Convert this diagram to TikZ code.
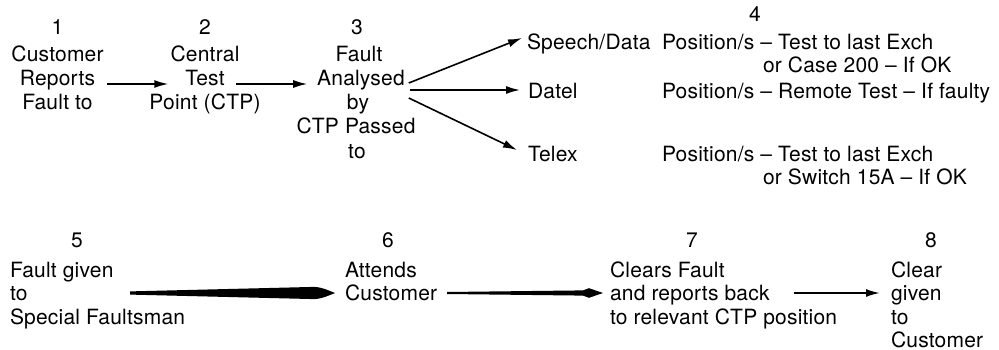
\documentclass[tikz,border=0pt]{standalone}
\usepackage{fontspec}
\setmainfont{TeX Gyre Heros}[LetterSpace=1]
\usetikzlibrary{arrows.meta,calc}
\begin{document}
\begin{tikzpicture}[x=1pt,y=-1pt,
  txt/.style={inner sep=0pt, outer sep=0pt, font=\fontsize{21}{24}\selectfont},
  ctr/.style={txt, anchor=base},
  lft/.style={txt, anchor=base west},
  arr/.style={line width=1.6pt, -{Latex[length=14pt,width=8pt]}},
  taper/.style={fill=black, draw=none}]
\useasboundingbox (0,0) rectangle (999,350);

% ---- step 1
\node[ctr] (n1)  at (57.5,35)  {1};
\node[ctr] (n1a) at (57.5,62)  {Customer};
\node[ctr] (n1b) at (57.5,86)  {Reports};
\node[ctr] (n1c) at (57.5,110) {Fault to};
% ---- step 2
\node[ctr] (n2)  at (205,35)  {2};
\node[ctr] (n2a) at (205,62)  {Central};
\node[ctr] (n2b) at (205,86)  {Test};
\node[ctr] (n2c) at (205,110) {Point (CTP)};
% ---- step 3
\node[ctr] (n3)  at (357,35)  {3};
\node[ctr] (n3a) at (359,62)  {Fault};
\node[ctr] (n3b) at (361,86)  {Analysed};
\node[ctr] (n3c) at (358,110) {by};
\node[ctr] (n3d) at (356,134) {CTP Passed};
\node[ctr] (n3e) at (357,159) {to};
% ---- step 4
\node[ctr] (n4) at (755,22) {4};
\node[lft] (sp)  at (527,50)  {Speech/Data};
\node[lft] (sp1) at (662,50)  {Position/s -- Test to last Exch};
\node[lft] (sp2) at (763,73)  {or Case 200 -- If OK};
\node[lft] (da)  at (528,99)  {Datel};
\node[lft] (da1) at (662,99)  {Position/s -- Remote Test -- If faulty};
\node[lft] (tx)  at (528,162) {Telex};
\node[lft] (tx1) at (662,162) {Position/s -- Test to last Exch};
\node[lft] (tx2) at (763,185) {or Switch 15A -- If OK};
% ---- step 5
\node[ctr] (n5)  at (77,247)  {5};
\node[lft] (n5a) at (10,277)  {Fault given};
\node[lft] (n5b) at (10,300)  {to};
\node[lft] (n5c) at (10,324)  {Special Faultsman};
% ---- step 6
\node[ctr] (n6)  at (388,247) {6};
\node[lft] (n6a) at (345,277) {Attends};
\node[lft] (n6b) at (345,300) {Customer};
% ---- step 7
\node[ctr] (n7)  at (692,247) {7};
\node[lft] (n7a) at (610,277) {Clears Fault};
\node[lft] (n7b) at (610,300) {and reports back};
\node[lft] (n7c) at (610,324) {to relevant CTP position};
% ---- step 8
\node[ctr] (n8)  at (931,247) {8};
\node[lft] (n8a) at (891,277) {Clear};
\node[lft] (n8b) at (891,300) {given};
\node[lft] (n8c) at (891,324) {to};
\node[lft] (n8d) at (891,347) {Customer};

% ---- top connectors
\draw[arr] ([xshift=12pt,yshift=2pt]n1b.base east) -- ([xshift=-17pt,yshift=2pt]n2b.base west);
\draw[arr] ([xshift=11pt,yshift=2pt]n2b.base east) -- ([xshift=-10pt,yshift=2pt]n3b.base west);
\draw[arr] ([xshift=4pt,yshift=3pt]n3b.base east)  -- ([xshift=-5pt,yshift=12pt]sp.base west);
\draw[arr] ([xshift=5pt,yshift=-4pt]n3b.base east) -- ([xshift=-8pt,yshift=9pt]da.base west);
\draw[arr] ([xshift=4pt,yshift=-12pt]n3b.base east) -- ([xshift=-11pt,yshift=12pt]tx.base west);

% ---- bottom connectors (tapered)
\fill[taper] (130,291.4) -- (314,286.9)
  .. controls (322,287.2) and (328,290.2) .. (335,293)
  .. controls (328,295.8) and (322,298.8) .. (314,299.1)
  -- (130,294.6) -- cycle;
\fill[taper] (447,292.0) -- (583,290.4)
  .. controls (585.5,289.6) and (587.5,288.6) .. (589,288.2)
  -- (603,293) -- (589,297.8)
  .. controls (587.5,297.4) and (585.5,296.4) .. (583,295.6)
  -- (447,294.0) -- cycle;
\draw[arr, line width=1.8pt] ([xshift=24pt,yshift=7pt]n7b.base east) -- ([xshift=-11pt,yshift=7pt]n8b.base west);
\end{tikzpicture}
\end{document}
